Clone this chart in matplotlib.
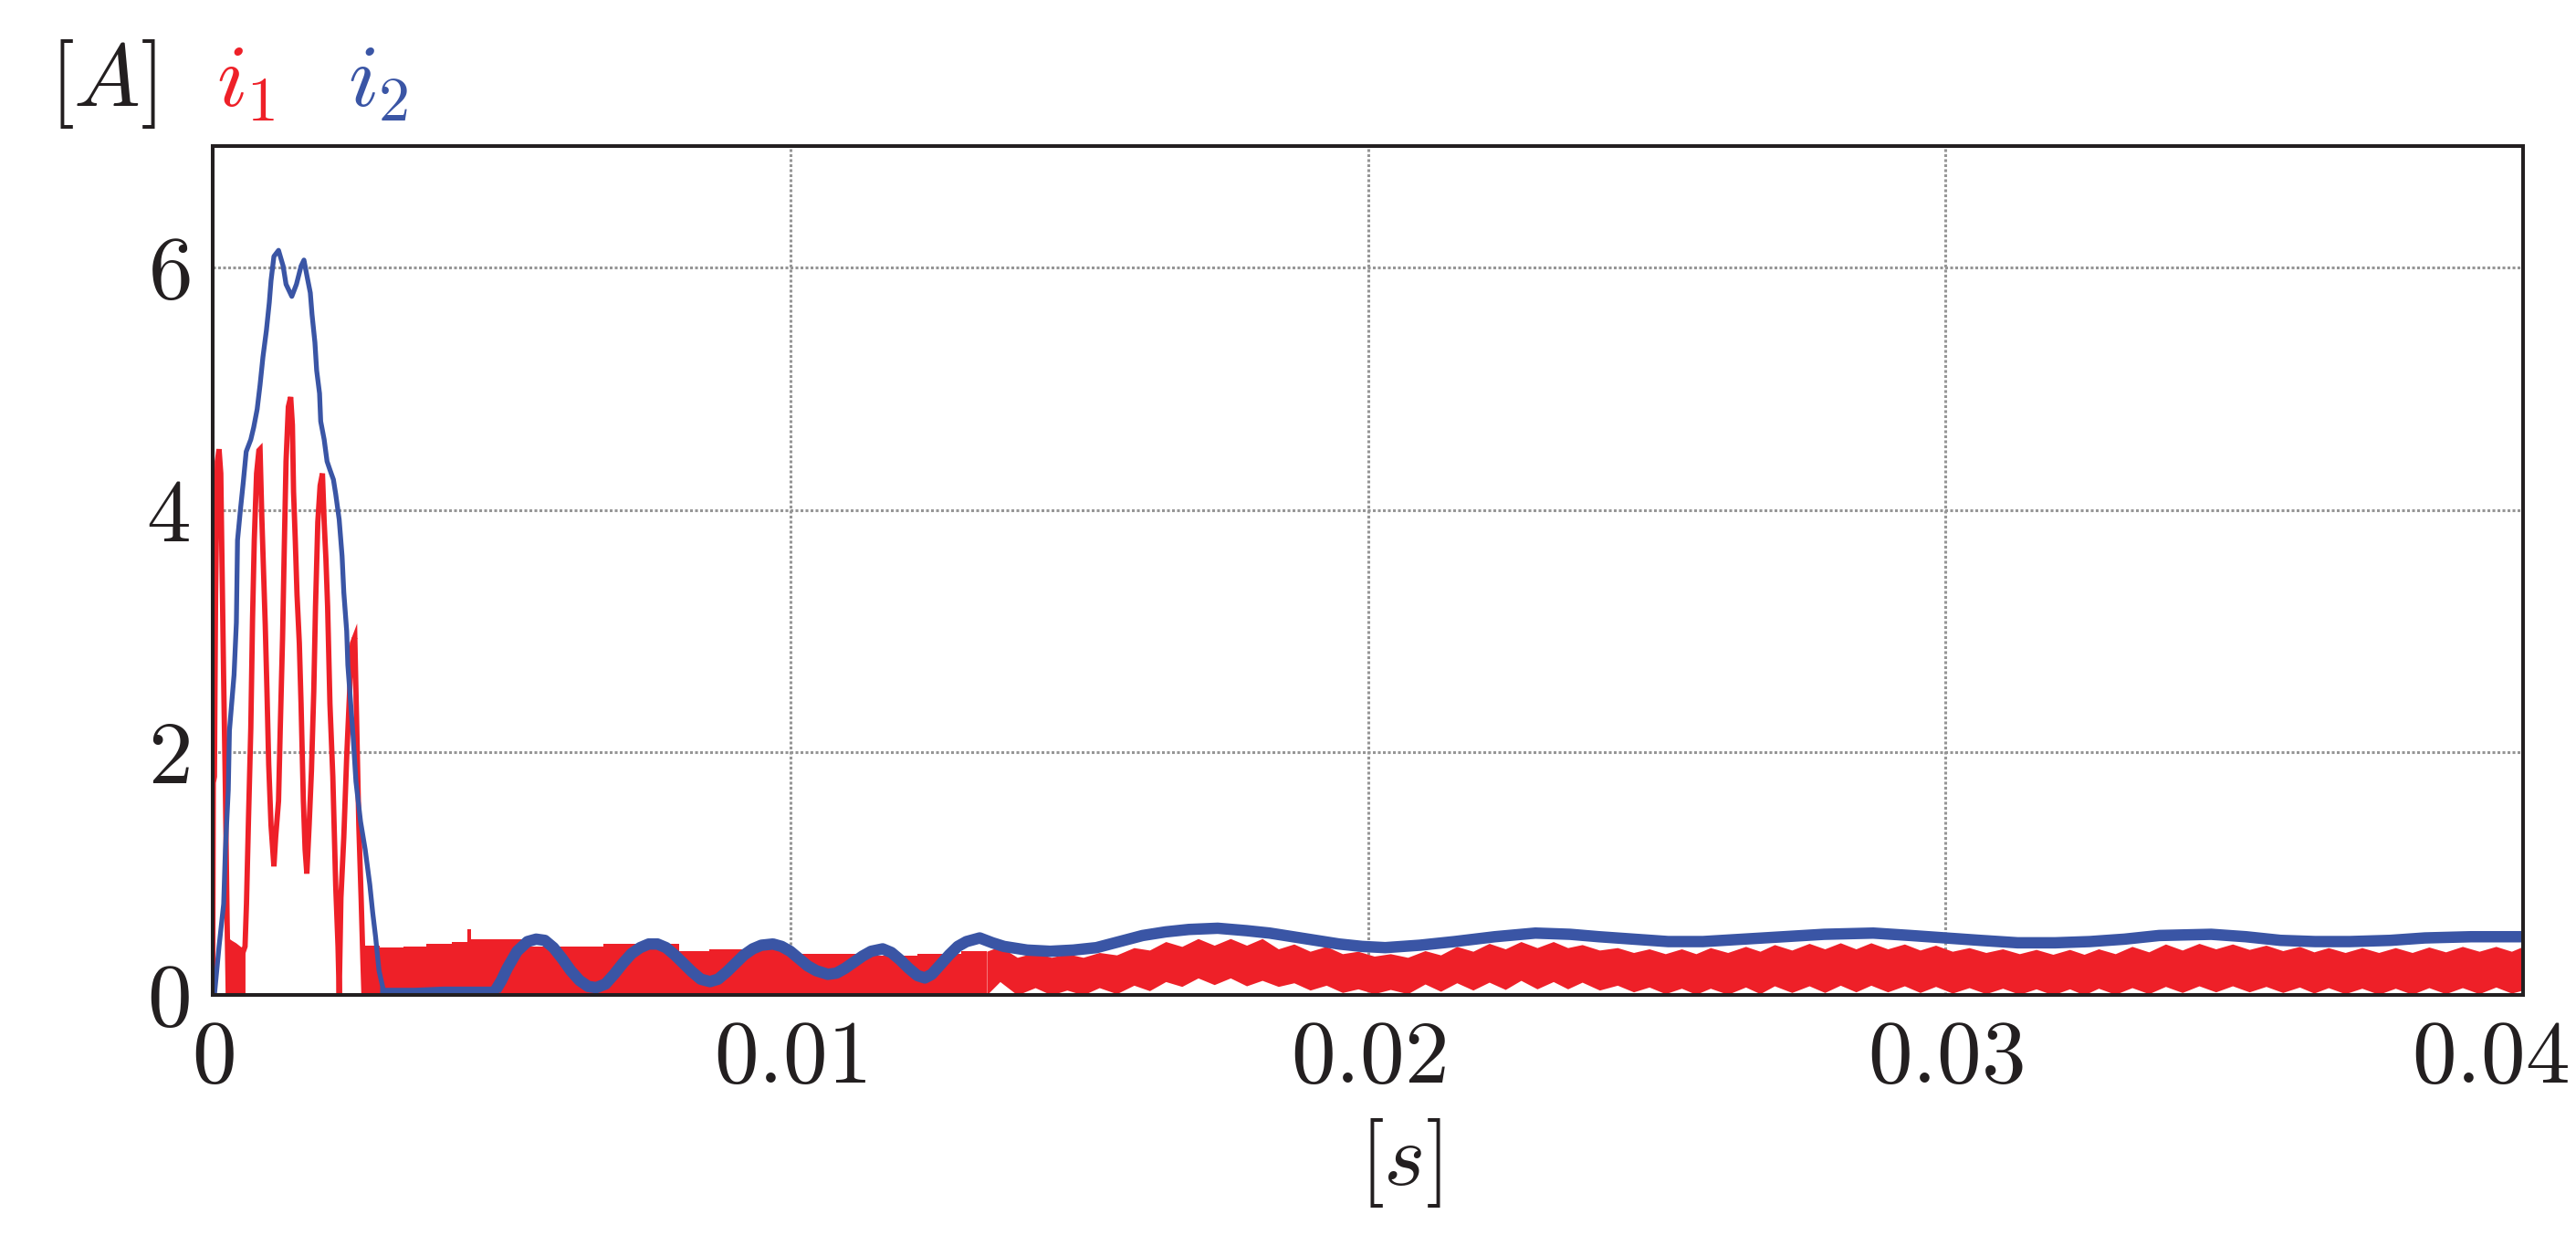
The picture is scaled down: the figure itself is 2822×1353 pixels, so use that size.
import numpy as np
import matplotlib
matplotlib.use("Agg")
import matplotlib.pyplot as plt
from matplotlib.transforms import ScaledTranslation

plt.rcParams['mathtext.fontset'] = 'cm'
plt.rcParams['font.family'] = 'serif'
plt.rcParams['font.serif'] = ['cmr10', 'DejaVu Serif']

RED = '#EE2028'
BLUE = '#3A55A5'

# ---------------- data (time in ms, current in A) ----------------
# i2 (blue)
i2_t = [0.0, 0.03, 0.11, 0.19, 0.22, 0.27, 0.29, 0.37, 0.41, 0.43, 0.48, 0.53, 0.58, 0.66, 0.71,
        0.77, 0.82, 0.87, 0.93, 0.98, 1.01, 1.06, 1.14, 1.22, 1.27, 1.37, 1.45, 1.53, 1.58, 1.64,
        1.69, 1.72, 1.77, 1.80, 1.85, 1.87, 1.93, 1.98, 2.03, 2.09, 2.13, 2.19, 2.24, 2.27, 2.32,
        2.34, 2.43, 2.48, 2.56, 2.64, 2.72, 2.77, 2.82, 2.88, 2.96]
i2_v = [0.0, 0.0, 0.40, 0.75, 1.20, 1.69, 2.18, 2.64, 3.07, 3.75, 4.00, 4.23, 4.48, 4.58, 4.68,
        4.83, 5.03, 5.26, 5.48, 5.71, 5.89, 6.09, 6.14, 6.01, 5.86, 5.76, 5.86, 6.01, 6.06, 5.91,
        5.79, 5.61, 5.38, 5.15, 4.96, 4.73, 4.58, 4.40, 4.33, 4.25, 4.13, 3.92, 3.62, 3.32, 3.00,
        2.72, 2.14, 1.76, 1.43, 1.20, 0.91, 0.68, 0.48, 0.20, 0.03]
i2_flat_t = [2.96, 3.50, 4.00, 4.60, 4.90]
i2_flat_v = [0.03, 0.03, 0.04, 0.04, 0.04]
i2_late_t = [4.90, 5.00, 5.10, 5.27, 5.45, 5.60, 5.75, 5.90, 6.05, 6.20, 6.35, 6.50, 6.64, 6.80,
             6.95, 7.10, 7.25, 7.40, 7.55, 7.70, 7.85, 8.00, 8.15, 8.30, 8.45, 8.61, 8.75, 8.90,
             9.05, 9.20, 9.35, 9.50, 9.70, 9.85, 10.00, 10.15, 10.30, 10.45, 10.65, 10.80, 10.95,
             11.10, 11.25, 11.40, 11.60, 11.75, 11.90, 12.05, 12.20, 12.33, 12.45, 12.60, 12.75,
             12.90, 13.05, 13.28, 13.50, 13.70, 14.1, 14.5, 14.9, 15.3, 15.7, 16.1, 16.5, 16.9,
             17.4, 17.9, 18.3, 18.7, 19.1, 19.5, 19.9, 20.3, 20.9, 21.5, 22.2, 22.9, 23.5, 24.0,
             24.6, 25.2, 25.8, 26.5, 27.2, 27.9, 28.75, 29.4, 30.0, 30.6, 31.25, 31.9, 32.5, 33.1,
             33.7, 34.6, 35.2, 35.8, 36.4, 37.0, 37.7, 38.3, 39.1, 40.0]
i2_late_v = [0.04, 0.12, 0.22, 0.36, 0.44, 0.46, 0.45, 0.39, 0.30, 0.20, 0.12, 0.07, 0.06, 0.09,
             0.17, 0.26, 0.34, 0.39, 0.42, 0.42, 0.39, 0.33, 0.26, 0.19, 0.13, 0.11, 0.13, 0.19,
             0.26, 0.33, 0.38, 0.41, 0.42, 0.40, 0.36, 0.30, 0.24, 0.20, 0.17, 0.18, 0.22,
             0.27, 0.32, 0.36, 0.38, 0.35, 0.29, 0.22, 0.16, 0.14, 0.17, 0.25, 0.33,
             0.40, 0.44, 0.47, 0.43, 0.40, 0.37, 0.36, 0.37, 0.39, 0.44, 0.49, 0.52, 0.54,
             0.55, 0.53, 0.51, 0.48, 0.45, 0.42, 0.40, 0.39, 0.41, 0.44, 0.48, 0.51, 0.50, 0.48,
             0.46, 0.44, 0.44, 0.46, 0.48, 0.50, 0.51, 0.49, 0.47, 0.45, 0.43, 0.43, 0.44, 0.46,
             0.49, 0.50, 0.48, 0.45, 0.44, 0.44, 0.45, 0.47, 0.48, 0.48]

# i1 (red) - start-up transient
i1_t = [0.00, 0.01, 0.03, 0.05, 0.08, 0.11, 0.14, 0.16, 0.19, 0.22, 0.25, 0.27,
        0.56, 0.585, 0.62, 0.66, 0.69, 0.72, 0.76, 0.80, 0.82, 0.85, 0.88, 0.91, 0.94, 0.97,
        1.01, 1.06, 1.09, 1.14, 1.17, 1.21, 1.24, 1.27, 1.31, 1.35, 1.38, 1.40, 1.43, 1.46,
        1.50, 1.53, 1.57, 1.60, 1.63, 1.67, 1.71, 1.75, 1.78, 1.82, 1.86, 1.90, 1.93, 1.96,
        1.99, 2.03, 2.08, 2.13, 2.17, 2.19, 2.22, 2.27, 2.32, 2.38, 2.42, 2.46, 2.49, 2.53,
        2.57, 2.60, 2.62]
i1_v = [0.0, 1.75, 1.80, 3.30, 4.40, 4.50, 4.30, 3.60, 2.60, 1.70, 0.60, 0.0,
        0.40, 0.75, 1.45, 2.20, 3.10, 3.75, 4.30, 4.49, 4.50, 3.95, 3.50, 3.05, 2.50, 1.90,
        1.40, 1.06, 1.30, 1.60, 2.20, 2.95, 3.70, 4.40, 4.85, 4.93, 4.70, 4.15, 3.75, 3.30,
        2.90, 2.40, 1.60, 1.20, 1.00, 1.40, 1.85, 2.50, 3.20, 3.90, 4.20, 4.30, 3.90, 3.60,
        3.20, 2.40, 1.80, 0.90, 0.40, 0.0, 0.80, 1.30, 1.96, 2.60, 2.90, 2.95, 2.30, 1.40,
        0.80, 0.30, 0.0]
# i1 fast-switching band during 0.27-0.56 ms (top envelope, bottom at 0)
i1_lowband_t = [0.27, 0.33, 0.40, 0.48, 0.56]
i1_lowband_hi = [0.47, 0.45, 0.43, 0.40, 0.38]
# i1 switching band 2.62-13.4 ms: stepwise top envelope, bottom at 0
i1_flat_t = [2.62, 2.90, 3.30, 3.70, 4.14, 4.41, 4.47, 5.35, 6.77, 8.07, 8.59, 10.12, 11.20,
             12.20, 12.96, 13.40]
i1_flat_hi = [0.41, 0.39, 0.40, 0.42, 0.44, 0.54, 0.46, 0.40, 0.42, 0.36, 0.38, 0.34, 0.32,
              0.34, 0.36, 0.36]
# i1 switching band 13.4-40 ms: envelopes at ripple crests and troughs
crest_t = [13.63, 14.24, 14.79, 15.35, 15.95, 16.50, 17.06, 17.62, 18.17, 18.72, 19.28, 19.83,
           20.39, 20.99, 21.54, 22.10, 22.65, 23.21, 23.71, 24.32, 24.87, 25.43, 25.93, 26.54,
           27.04, 27.64, 28.18, 28.71, 29.29, 29.83, 30.41, 30.99, 31.57, 32.15, 32.65, 33.23,
           33.81, 34.39, 34.97, 35.55, 36.13, 36.63, 37.21, 37.79, 38.37, 38.95, 39.53]
crest_lo = [0.11, 0.06, 0.04, 0.06, 0.08, 0.11, 0.14, 0.14, 0.12, 0.10, 0.08, 0.05, 0.045,
            0.09, 0.10, 0.105, 0.12, 0.11, 0.105, 0.08, 0.065, 0.055, 0.055, 0.065, 0.075, 0.075,
            0.08, 0.08, 0.075, 0.07, 0.06, 0.055, 0.05, 0.05, 0.055, 0.06, 0.07, 0.075, 0.075,
            0.07, 0.065, 0.06, 0.055, 0.055, 0.06, 0.06, 0.065]
crest_hi = [0.40, 0.35, 0.34, 0.35, 0.39, 0.44, 0.465, 0.465, 0.465, 0.42, 0.40, 0.36, 0.34,
            0.365, 0.40, 0.425, 0.44, 0.44, 0.415, 0.39, 0.38, 0.38, 0.39, 0.40, 0.415, 0.425,
            0.43, 0.43, 0.42, 0.41, 0.39, 0.38, 0.375, 0.375, 0.38, 0.40, 0.42, 0.425, 0.42,
            0.41, 0.40, 0.39, 0.39, 0.39, 0.395, 0.40, 0.40]
trough_t = [13.40, 13.93, 14.52, 15.07, 15.65, 16.22, 16.78, 17.34, 17.90, 18.45, 19.00, 19.56,
            20.11, 20.69, 21.26, 21.82, 22.38, 22.93, 23.46, 24.01, 24.60, 25.15, 25.68, 26.23,
            26.79, 27.34, 27.91, 28.45, 29.00, 29.56, 30.12, 30.70, 31.28, 31.86, 32.40, 32.94,
            33.52, 34.10, 34.68, 35.26, 35.84, 36.38, 36.92, 37.50, 38.08, 38.66, 39.24, 39.80,
            40.00]
trough_lo = [0.0, 0.0, 0.0, 0.0, 0.01, 0.035, 0.07, 0.085, 0.075, 0.07, 0.04, 0.02, 0.01, 0.01,
             0.03, 0.04, 0.045, 0.05, 0.05, 0.04, 0.025, 0.01, 0.005, 0.005, 0.01, 0.02, 0.02,
             0.025, 0.025, 0.02, 0.015, 0.01, 0.005, 0.0, 0.0, 0.005, 0.01, 0.02, 0.025, 0.025,
             0.02, 0.015, 0.01, 0.005, 0.005, 0.01, 0.01, 0.015, 0.04]
trough_hi = [0.36, 0.31, 0.31, 0.31, 0.33, 0.37, 0.40, 0.41, 0.41, 0.38, 0.36, 0.34, 0.32, 0.31,
             0.33, 0.36, 0.38, 0.39, 0.39, 0.37, 0.35, 0.34, 0.34, 0.35, 0.36, 0.37, 0.38,
             0.38, 0.38, 0.37, 0.36, 0.35, 0.34, 0.335, 0.335, 0.34, 0.355, 0.37, 0.38, 0.375,
             0.365, 0.355, 0.35, 0.35, 0.35, 0.355, 0.36, 0.36, 0.40]

x_ticks = [0, 0.01, 0.02, 0.03, 0.04]
x_ticklabels = ['0', '0.01', '0.02', '0.03', '0.04']
y_ticks = [0, 2, 4, 6]
y_ticklabels = ['0', '2', '4', '6']

# ---------------- figure ----------------
W, H = 2822, 1353
fig = plt.figure(figsize=(W / 100, H / 100), dpi=100)
L, R, T, B = 233, 2764, 160, 1090
ax = fig.add_axes([L / W, 1 - B / H, (R - L) / W, (B - T) / H])

ms = 1e-3
# red band pieces
ax.fill_between(np.array(i1_lowband_t) * ms, 0, i1_lowband_hi, color=RED, lw=0, zorder=2)
ax.fill_between(np.array(i1_flat_t) * ms, 0, i1_flat_hi, step='post', color=RED, lw=0, zorder=2)
rt = np.array(crest_t + trough_t)
order = np.argsort(rt)
rlo = np.array(crest_lo + trough_lo)[order]
rhi = np.array(crest_hi + trough_hi)[order]
ax.fill_between(rt[order] * ms, rlo, rhi, color=RED, lw=0, zorder=2)
ax.plot(np.array(i1_t) * ms, i1_v, color=RED, lw=4.2, zorder=3, solid_joinstyle='miter')

# blue
ax.plot(np.array(i2_t) * ms, i2_v, color=BLUE, lw=3.8, zorder=4)
ax.plot(np.array(i2_flat_t) * ms, i2_flat_v, color=BLUE, lw=5.5, zorder=4)
ax.plot(np.array(i2_late_t) * ms, i2_late_v, color=BLUE, lw=9.0, zorder=4,
        solid_capstyle='butt')

ax.set_xlim(0, 0.04)
ax.set_ylim(0, 7)
ax.set_xticks(x_ticks)
ax.set_xticklabels(['$' + s + '$' for s in x_ticklabels])
ax.set_yticks(y_ticks)
ax.set_yticklabels(['$' + s + '$' for s in y_ticklabels])
ax.tick_params(length=0, labelsize=70, colors='#231F20')
ax.tick_params(axis='x', pad=20)
ax.tick_params(axis='y', pad=18)
# last x label sits just inside the figure edge
last = ax.get_xticklabels()[-1]
last.set_transform(last.get_transform() + ScaledTranslation(-0.36, 0, fig.dpi_scale_trans))

ax.grid(True, color='#969696', lw=2.2, linestyle=(0, (1.0, 0.8)), zorder=0)
ax.set_axisbelow(True)
for s in ax.spines.values():
    s.set_linewidth(2.9)
    s.set_color('#231F20')
    s.set_zorder(6)

ax.set_xlabel(r'$[s]$', fontsize=70, color='#231F20')
ax.xaxis.set_label_coords(0.514, -0.143)
ax.xaxis.label.set_va('top')

fig.text(54 / W, 1 - 92 / H, r'$[A]$', fontsize=70, color='#231F20', ha='left', va='center')
fig.text(237 / W, 1 - 92 / H, r'$i_1$', fontsize=70, color=RED, ha='left', va='center')
fig.text(381 / W, 1 - 92 / H, r'$i_2$', fontsize=70, color=BLUE, ha='left', va='center')

fig.savefig('out.png', dpi=100)
